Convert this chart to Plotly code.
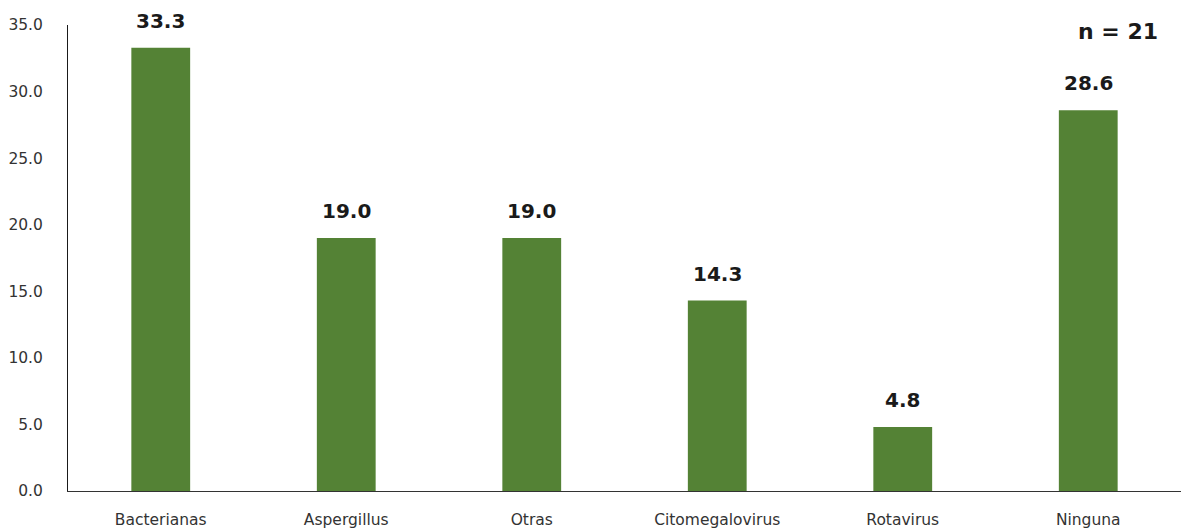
import plotly.graph_objects as go

categories = ["Bacterianas", "Aspergillus", "Otras", "Citomegalovirus", "Rotavirus", "Ninguna"]
values = [33.3, 19.0, 19.0, 14.3, 4.8, 28.6]
y_ticks = [0, 5, 10, 15, 20, 25, 30, 35]
y_tick_labels = [f"{v:.1f}" for v in y_ticks]
sample_label = "n = 21"

GREEN = "#548235"
FONT = "'DejaVu Sans', sans-serif"

fig = go.Figure()
fig.add_trace(go.Bar(
    x=categories, y=values,
    marker=dict(color=GREEN, line=dict(width=0)),
    width=0.317,
    hoverinfo="x+y",
))

for c, v in zip(categories, values):
    fig.add_annotation(
        x=c, y=v, text=f"<b>{v:.1f}</b>", showarrow=False,
        yanchor="middle", yshift=27,
        font=dict(family=FONT, size=20, color="#1a1a1a"),
    )

fig.add_annotation(
    xref="paper", yref="paper", x=0.943, y=0.985,
    text=f"<b>{sample_label}</b>", showarrow=False,
    xanchor="center", yanchor="middle",
    font=dict(family=FONT, size=22, color="#1a1a1a"),
)

fig.update_layout(
    width=1181, height=529,
    margin=dict(l=68, r=0, t=25, b=36),
    paper_bgcolor="white", plot_bgcolor="white",
    showlegend=False,
    bargap=0.68,
    font=dict(family=FONT, size=15, color="#333333"),
)
fig.update_yaxes(
    range=[0, 35], tickvals=y_ticks, ticktext=y_tick_labels,
    showgrid=False, zeroline=False,
    showline=True, linecolor="#1a1a1a", linewidth=1,
    ticks="", ticklabelstandoff=21,
    tickfont=dict(family=FONT, size=15.5, color="#333333"),
)
fig.update_xaxes(
    showgrid=False, zeroline=False,
    showline=True, linecolor="#333333", linewidth=1.2,
    ticks="", ticklabelstandoff=14,
    tickfont=dict(family=FONT, size=15.5, color="#333333"),
)

fig.write_html("out.html")
